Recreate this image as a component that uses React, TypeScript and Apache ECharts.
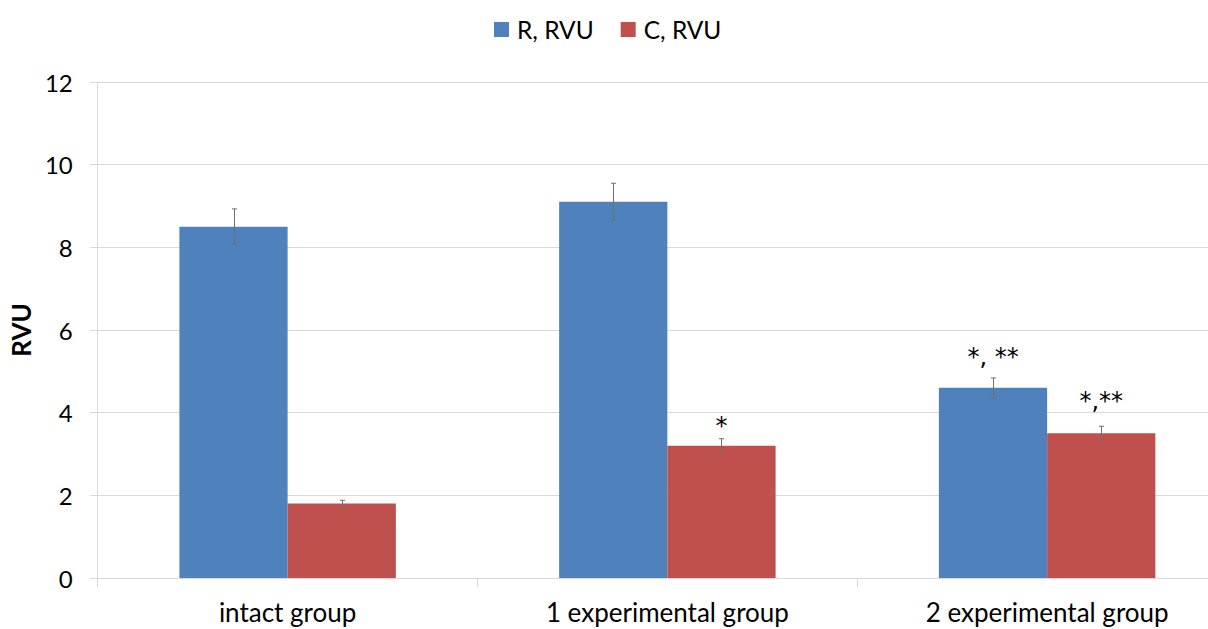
import React, { useEffect, useRef } from "react";
import * as echarts from "echarts";

const categories = ["intact group", "1 experimental group", "2 experimental group"];
const rValues = [8.5, 9.1, 4.6];
const cValues = [1.8, 3.2, 3.5];
const rErrors = [0.43, 0.45, 0.24];
const cErrors = [0.08, 0.17, 0.17];
const rMarks = ["", "", "*, **"];
const cMarks = ["", "*", "*,**"];
const yTicks = [0, 2, 4, 6, 8, 10, 12];

const BLUE = "#4F81BD";
const RED = "#C0504D";
const FONT = "Lato, 'Open Sans', sans-serif";
const MARK_FONT = "'DejaVu Sans', sans-serif";
const CAT_GAP = 0.43;
// vertical gap (px) between error-bar top and the annotation text box bottom
const rMarkGap = [0, 0, 9];
const cMarkGap = [0, 1, 13];

export default function App() {
  const ref = useRef<HTMLDivElement>(null);
  useEffect(() => {
    if (!ref.current) return;
    const chart = echarts.init(ref.current, null, { renderer: "svg" });

    const errSeries = (values: number[], errors: number[], sign: number, name: string) => ({
      type: "custom",
      name,
      silent: true,
      z: 5,
      data: values.map((v, i) => [i, v - errors[i], v + errors[i]]),
      renderItem: (params: any, api: any) => {
        const x = api.value(0);
        const lo = api.coord([x, api.value(1)]);
        const hi = api.coord([x, api.value(2)]);
        const band = api.size([1, 0])[0];
        const bw = (band * (1 - CAT_GAP)) / 2;
        const cx = Math.round(lo[0] + (sign * bw) / 2) + 0.5;
        const cap = 2.5;
        const style = { stroke: "#6f6f6f", lineWidth: 1 };
        return {
          type: "group",
          children: [
            { type: "line", shape: { x1: cx, y1: lo[1], x2: cx, y2: hi[1] }, style },
            { type: "line", shape: { x1: cx - cap, y1: hi[1], x2: cx + cap, y2: hi[1] }, style },
            { type: "line", shape: { x1: cx - cap, y1: lo[1], x2: cx + cap, y2: lo[1] }, style },
          ],
        };
      },
    });

    const markSeries = (
      values: number[],
      errors: number[],
      marks: string[],
      gaps: number[],
      sign: number,
      name: string
    ) => ({
      type: "custom",
      name,
      silent: true,
      z: 6,
      data: values.map((v, i) => [i, v + errors[i]]),
      renderItem: (params: any, api: any) => {
        const i = params.dataIndex;
        const text = marks[i];
        if (!text) return { type: "group", children: [] };
        const p = api.coord([api.value(0), api.value(1)]);
        const band = api.size([1, 0])[0];
        const bw = (band * (1 - CAT_GAP)) / 2;
        return {
          type: "text",
          x: p[0] + (sign * bw) / 2,
          y: p[1] - gaps[i],
          style: {
            text,
            fill: "#000",
            font: `24px ${MARK_FONT}`,
            align: "center",
            verticalAlign: "bottom",
          },
        };
      },
    });

    chart.setOption({
      animation: false,
      textStyle: { fontFamily: FONT },
      legend: {
        top: 12,
        left: 489,
        itemWidth: 15,
        itemHeight: 15,
        itemGap: 27,
        icon: "rect",
        data: ["R, RVU", "C, RVU"],
        textStyle: { fontSize: 24.5, color: "#000", fontFamily: FONT, padding: [0, 0, 0, 3] },
      },
      grid: { left: 97, right: 0, top: 82, bottom: 51, containLabel: false },
      xAxis: {
        type: "category",
        data: categories,
        axisLine: { lineStyle: { color: "#d9d9d9", width: 1 } },
        axisTick: { show: true, length: 9, lineStyle: { color: "#d9d9d9" } },
        axisLabel: { fontSize: 26, color: "#000", margin: 21, fontFamily: FONT },
      },
      yAxis: {
        type: "value",
        min: 0,
        max: 12,
        interval: 2,
        name: "RVU",
        nameLocation: "middle",
        nameGap: 61,
        nameTextStyle: { fontSize: 26, fontWeight: "bold", color: "#000", fontFamily: FONT },
        axisLine: { show: true, lineStyle: { color: "#d9d9d9", width: 1 } },
        axisTick: { show: true, length: 8, lineStyle: { color: "#d9d9d9" } },
        axisLabel: {
          fontSize: 24,
          color: "#000",
          margin: 25,
          fontFamily: FONT,
          formatter: (v: number) => (yTicks.includes(v) ? String(v) : ""),
        },
        splitLine: { show: true, lineStyle: { color: "#d9d9d9", width: 1 } },
      },
      series: [
        {
          type: "bar",
          name: "R, RVU",
          data: rValues,
          itemStyle: { color: BLUE },
          barGap: "0%",
          barCategoryGap: `${CAT_GAP * 100}%`,
        },
        {
          type: "bar",
          name: "C, RVU",
          data: cValues,
          itemStyle: { color: RED },
          barGap: "0%",
          barCategoryGap: `${CAT_GAP * 100}%`,
        },
        errSeries(rValues, rErrors, -1, "rErr"),
        errSeries(cValues, cErrors, 1, "cErr"),
        markSeries(rValues, rErrors, rMarks, rMarkGap, -1, "rMark"),
        markSeries(cValues, cErrors, cMarks, cMarkGap, 1, "cMark"),
      ],
    });
    return () => chart.dispose();
  }, []);

  return (
    <div
      style={{
        position: "absolute",
        left: 0,
        top: 0,
        width: 1208,
        height: 629,
        overflow: "hidden",
        background: "#fff",
      }}
    >
      <div ref={ref} style={{ width: 1237, height: 629 }} />
    </div>
  );
}
